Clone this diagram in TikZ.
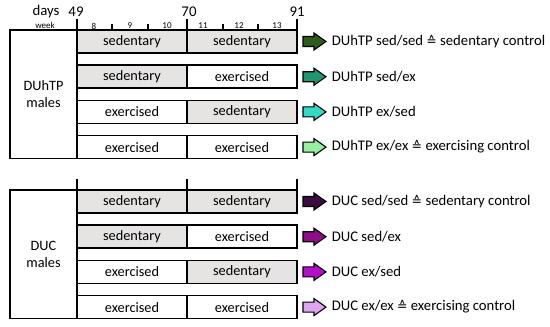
\documentclass[tikz,border=0pt]{standalone}
\usepackage{fontspec}
\setmainfont{Carlito}
\newfontfamily\symfont{DejaVu Sans}
\definecolor{sedgray}{HTML}{E6E3E3}
\definecolor{ga}{HTML}{2E5A1C}
\definecolor{gb}{HTML}{1F9570}
\definecolor{gc}{HTML}{33D9C2}
\definecolor{gd}{HTML}{96F0A0}
\definecolor{pa}{HTML}{3D0B40}
\definecolor{pb}{HTML}{8F0B8A}
\definecolor{pc}{HTML}{B311C9}
\definecolor{pd}{HTML}{DDA6F0}
\newcommand{\eqsym}{{\symfont\fontsize{12.5}{15}\selectfont ≙}}
\newcommand{\exprow}[8]{%
  \node[#3] (#1l) at (77,#2) {#4};
  \node[#5] (#1r) at (#1l.north east) {#6};
  \coordinate (#1a) at ([xshift=6pt]#1r.east);
  \draw[arrowshape, fill=#7] (#1a) ++(0,-5) -- ++(11,0) -- ++(0,-3.5) -- ++(12,8.5)
     -- ++(-12,8.5) -- ++(0,-3.5) -- ++(-11,0) -- cycle;
  \node[lbl] (#1t) at ([xshift=34pt]#1r.east) {#8};
}
\begin{document}
\begin{tikzpicture}[x=1pt,y=-1pt,line width=1.6pt,
  cell/.style={draw, minimum width=110pt, minimum height=23pt, inner sep=0pt, outer sep=0pt,
    anchor=north west, font=\fontsize{14.3}{16}\selectfont},
  sed/.style={cell, fill=sedgray},
  exc/.style={cell, fill=white},
  grp/.style={draw, anchor=north west, minimum width=67pt, inner sep=0pt, outer sep=0pt,
    align=center, font=\fontsize{14.3}{17}\selectfont},
  lbl/.style={anchor=west, inner sep=0pt, font=\fontsize{14.7}{17}\selectfont},
  hdr/.style={inner sep=0pt, font=\fontsize{14.8}{16}\selectfont},
  small/.style={inner sep=0pt, font=\fontsize{9}{10}\selectfont},
  arrowshape/.style={draw=black, line width=1.1pt, line join=miter},
  tick/.style={line width=1.4pt}]
\useasboundingbox (0,0) rectangle (550,327);

% header
\node[hdr] (days) at (46,12) {days};
\node[hdr] (h49) at (76,12) {49};
\node[hdr] (h70) at (189,12) {70};
\node[hdr] (h91) at (297,12) {91};
\node[small] (week) at (45,25) {week};
\node[small] (w8) at (94,26) {8};
\node[small] (w9) at (130,26) {9};
\node[small] (w10) at (167,26) {10};
\node[small] (w11) at (203,26) {11};
\node[small] (w12) at (239,26) {12};
\node[small] (w13) at (277,26) {13};

% top group
\node[grp, minimum height=128.6pt] (gtop) at (10,30) {DUhTP\\males};
\exprow{ta}{30}{sed}{sedentary}{sed}{sedentary}{ga}{DUhTP sed/sed \eqsym{} sedentary control}
\exprow{tb}{65.2}{sed}{sedentary}{exc}{exercised}{gb}{DUhTP sed/ex}
\exprow{tc}{100.4}{exc}{exercised}{sed}{sedentary}{gc}{DUhTP ex/sed}
\exprow{td}{135.6}{exc}{exercised}{exc}{exercised}{gd}{DUhTP ex/ex \eqsym{} exercising control}

% bottom group
\node[grp, minimum height=128.6pt] (gbot) at (10,190) {DUC\\males};
\exprow{ba}{190}{sed}{sedentary}{sed}{sedentary}{pa}{DUC sed/sed \eqsym{} sedentary control}
\exprow{bb}{225.2}{sed}{sedentary}{exc}{exercised}{pb}{DUC sed/ex}
\exprow{bc}{260.4}{exc}{exercised}{sed}{sedentary}{pc}{DUC ex/sed}
\exprow{bd}{295.6}{exc}{exercised}{exc}{exercised}{pd}{DUC ex/ex \eqsym{} exercising control}

% day lines
\draw (tal.north west) -- ++(0,-11);
\draw (tal.north east) -- ++(0,-11);
\draw (tar.north east) -- ++(0,-11);
\draw (bal.north west) -- ++(0,-11);
\draw (bal.north east) -- ++(0,-11);
\draw (bar.north east) -- ++(0,-11);
% week ticks
\draw[tick] ([xshift=35pt]tal.north west) -- ++(0,-6);
\draw[tick] ([xshift=71pt]tal.north west) -- ++(0,-6);
\draw[tick] ([xshift=36pt]tar.north west) -- ++(0,-6);
\draw[tick] ([xshift=71pt]tar.north west) -- ++(0,-6);
\end{tikzpicture}
\end{document}
